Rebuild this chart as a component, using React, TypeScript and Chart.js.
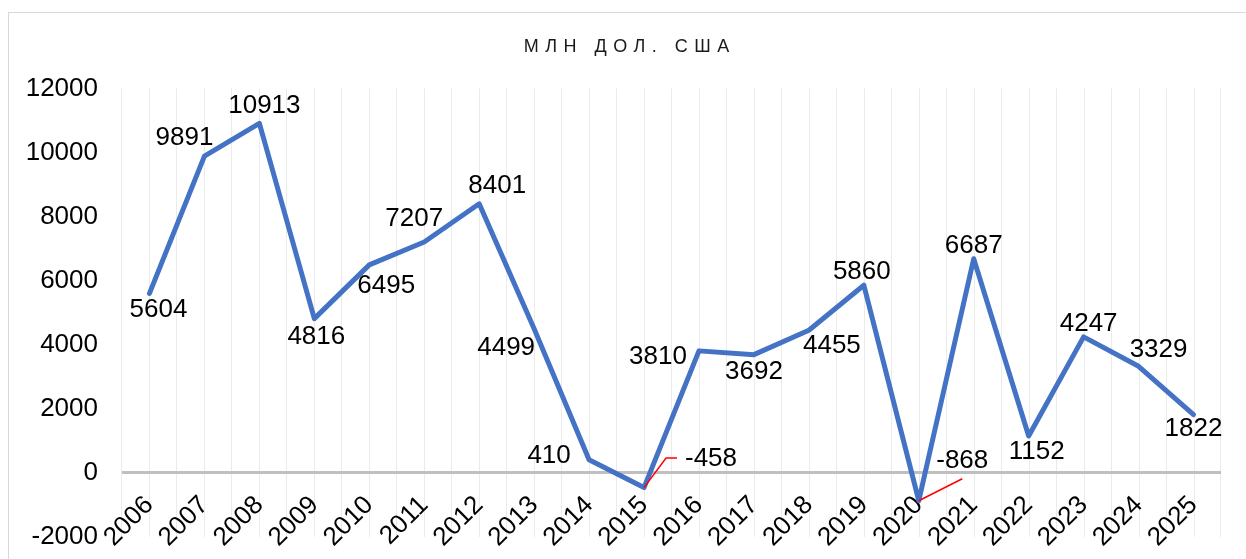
import React, { useEffect, useRef } from 'react';
import { Chart, registerables } from 'chart.js';

Chart.register(...registerables);

const FONT = '"Liberation Sans", Arial, sans-serif';
const titleText = 'МЛН ДОЛ. США';

const years = [
  '2006', '2007', '2008', '2009', '2010', '2011', '2012', '2013', '2014', '2015',
  '2016', '2017', '2018', '2019', '2020', '2021', '2022', '2023', '2024', '2025',
];

const values = [
  5604, 9891, 10913, 4816, 6495, 7207, 8401, 4499, 410, -458,
  3810, 3692, 4455, 5860, -868, 6687, 1152, 4247, 3329, 1822,
];

const yMin = -2000;
const yMax = 12000;
const yStep = 2000;

// label placement relative to each point (dx, dy) — styling only
const labelOffsets: [number, number][] = [
  [9, 16], [-20, -18], [5, -17], [2, 18], [17, 21], [-10, -23], [18, -18], [-28, 19], [-40, -4], [67, -29],
  [-41, 6], [0, 17], [23, 16], [-2, -13], [43.5, -40], [0, -13], [8, 16], [5, -13], [20, -16], [0, 14],
];

// leader lines (relative polyline points from data point) — styling only
const leaders: Record<number, [number, number][]> = {
  9: [[22, -29.5], [33, -29.5]],
  14: [[43.5, -22]],
};

export default function App() {
  const ref = useRef<HTMLCanvasElement>(null);

  useEffect(() => {
    const canvas = ref.current;
    if (!canvas) return;

    const framePlugin = {
      id: 'frameAndTitle',
      beforeDraw(chart: any) {
        const c = chart.ctx as CanvasRenderingContext2D;
        const { top, bottom } = chart.chartArea;
        const xs = chart.scales.x;
        c.save();
        // outer frame
        c.strokeStyle = '#d9d9d9';
        c.lineWidth = 1;
        c.strokeRect(8.5, 12.5, 1400, 700);
        // gridlines at category centres
        c.strokeStyle = '#ebebeb';
        c.lineWidth = 1;
        c.beginPath();
        for (let i = 0; i < years.length; i++) {
          const x = Math.round(xs.getPixelForValue(i)) + 0.5;
          c.moveTo(x, top);
          c.lineTo(x, bottom);
        }
        c.stroke();
        // title
        c.font = `18px ${FONT}`;
        (c as any).letterSpacing = '6.5px';
        c.fillStyle = '#1a1a1a';
        c.textAlign = 'left';
        c.textBaseline = 'alphabetic';
        const w = c.measureText(titleText).width - 6.5;
        c.fillText(titleText, 626.5 - w / 2, 52);
        c.restore();
      },
    };

    const labelPlugin = {
      id: 'pointLabels',
      afterDatasetsDraw(chart: any) {
        const c = chart.ctx as CanvasRenderingContext2D;
        const meta = chart.getDatasetMeta(0);
        c.save();
        meta.data.forEach((pt: any, i: number) => {
          const lead = leaders[i];
          if (lead) {
            c.strokeStyle = '#ff0000';
            c.lineWidth = 1.5;
            c.beginPath();
            c.moveTo(pt.x, pt.y);
            lead.forEach(([dx, dy]) => c.lineTo(pt.x + dx, pt.y + dy));
            c.stroke();
          }
        });
        c.font = `26px ${FONT}`;
        c.fillStyle = '#000000';
        c.textAlign = 'center';
        c.textBaseline = 'middle';
        meta.data.forEach((pt: any, i: number) => {
          const [dx, dy] = labelOffsets[i];
          c.fillText(String(values[i]), pt.x + dx, pt.y + dy);
        });
        c.restore();
      },
    };

    const chart = new Chart(canvas, {
      type: 'line',
      data: {
        labels: years,
        datasets: [
          {
            data: values,
            borderColor: '#4472C4',
            backgroundColor: '#4472C4',
            borderWidth: 5,
            pointRadius: 0,
            tension: 0,
            fill: false,
            borderJoinStyle: 'round',
            borderCapStyle: 'round',
          },
        ],
      },
      options: {
        responsive: false,
        animation: false,
        layout: { padding: { top: 88.5, right: 25, bottom: 22, left: 0 } },
        plugins: {
          legend: { display: false },
          tooltip: { enabled: false },
          title: { display: false },
        },
        scales: {
          x: {
            type: 'category',
            offset: true,
            position: { y: 0 } as any,
            grid: {
              offset: true,
              color: '#ebebeb',
              lineWidth: 1,
              drawTicks: true,
              tickLength: 17,
            },
            border: { display: false },
            ticks: {
              autoSkip: false,
              maxRotation: 45,
              minRotation: 45,
              padding: 0,
              color: '#000000',
              font: { size: 26, family: FONT },
            },
            afterFit(s: any) {
              s.height = 0;
              s.paddingLeft = 0;
              s.paddingRight = 0;
              s.paddingTop = 0;
              s.paddingBottom = 0;
            },
          },
          y: {
            min: yMin,
            max: yMax,
            ticks: {
              stepSize: yStep,
              padding: 24,
              color: '#000000',
              font: { size: 26, family: FONT },
              callback: (v: any) => String(v),
            },
            grid: {
              drawTicks: false,
              color: (ctx: any) => (ctx.tick && ctx.tick.value === 0 ? '#bfbfbf' : 'rgba(0,0,0,0)'),
              lineWidth: (ctx: any) => (ctx.tick && ctx.tick.value === 0 ? 3 : 0),
            },
            border: { display: false },
            afterFit(s: any) {
              s.width = 122;
              s.paddingTop = 0;
              s.paddingBottom = 0;
            },
          },
        },
      } as any,
      plugins: [framePlugin, labelPlugin],
    });

    return () => chart.destroy();
  }, []);

  return (
    <div style={{ position: 'fixed', left: 0, top: 0, width: 1246, height: 559, background: '#ffffff' }}>
      <canvas ref={ref} width={1246} height={559} style={{ display: 'block', width: 1246, height: 559 }} />
    </div>
  );
}
